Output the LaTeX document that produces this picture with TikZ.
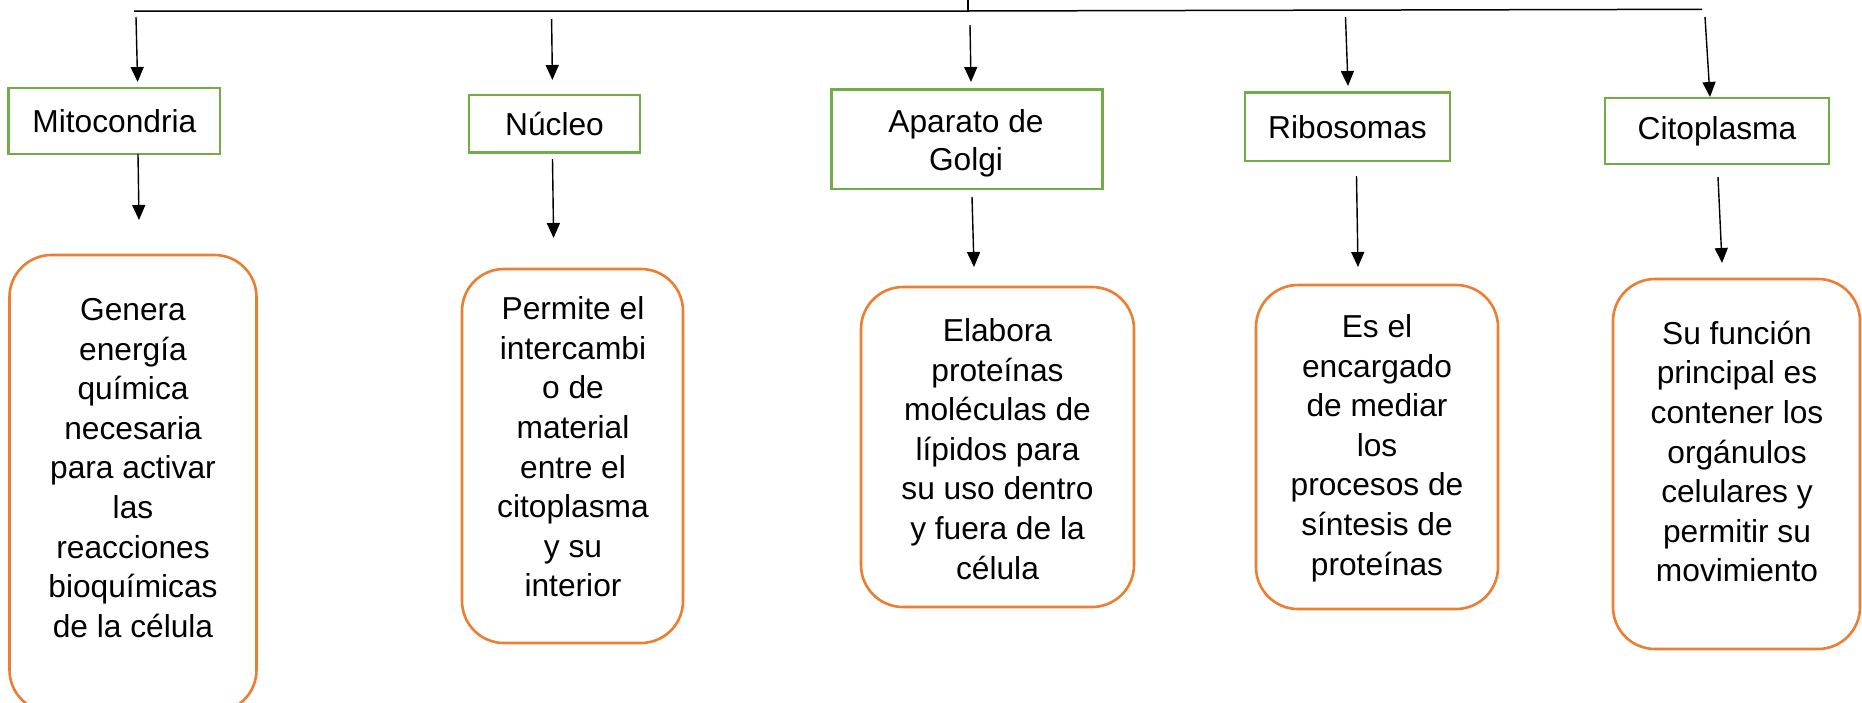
\documentclass[tikz,border=0pt]{standalone}
\usepackage{fontspec}
\setmainfont{Liberation Sans}
\usetikzlibrary{arrows.meta}
\definecolor{boxgreen}{RGB}{112,173,71}
\definecolor{boxorange}{RGB}{237,125,49}
\tikzset{
  organelle/.style={draw=boxgreen, line width=2.6pt, inner sep=0pt, align=center,
    font=\fontsize{31.7}{38.5}\selectfont},
  labeltext/.style={inner sep=0pt, align=center, font=\fontsize{31.7}{38.5}\selectfont},
  descbox/.style={draw=boxorange, line width=2.6pt, rounded corners=42pt, inner sep=0pt},
  desctext/.style={inner sep=0pt, align=center, font=\fontsize{31.7}{39.6}\selectfont},
  arr/.style={line width=1.4pt, -{Triangle[length=15pt,width=13pt]}},
  trunk/.style={line width=1.5pt},
}
\begin{document}
\begin{tikzpicture}[x=1pt,y=-1pt]
\clip (0,0) rectangle (1862,702);
\fill[white] (0,0) rectangle (1862,702);

% top connector
\coordinate (tl) at (134,11.2);
\coordinate (tm) at (968,11);
\coordinate (tr) at (1702,9.3);
\coordinate (tt) at (968,0);
\draw[trunk] (tl) -- (tm) -- (tr);
\draw[trunk] (tt) -- (tm);

% organelle boxes
\node[organelle, minimum width=211.3pt, minimum height=66pt] (mito) at (114.4,121) {Mitocondria};
\node[organelle, minimum width=171pt, minimum height=57.7pt] (nucleo) at (554.5,123.9) {Núcleo};
\node[organelle, minimum width=271pt, minimum height=99.7pt] (golgi) at (967.2,139.2) {};
\node[labeltext] (golgitxt) at (966,143.5) {Aparato de\\Golgi};
\node[organelle, minimum width=205pt, minimum height=68.3pt] (ribo) at (1347.5,126.9) {Ribosomas};
\node[organelle, minimum width=224pt, minimum height=66pt] (cito) at (1717,131) {Citoplasma};

% description boxes
\node[descbox, minimum width=247pt, minimum height=457pt] (mitobox) at (133,483.5) {};
\node[descbox, minimum width=221pt, minimum height=374pt] (nucleobox) at (572.5,456) {};
\node[descbox, minimum width=273pt, minimum height=320pt] (golgibox) at (997.5,447) {};
\node[descbox, minimum width=242pt, minimum height=324pt] (ribobox) at (1377,447) {};
\node[descbox, minimum width=247pt, minimum height=370pt] (citobox) at (1736.5,464) {};

% description texts
\node[desctext] (mitotext) at (133,468) {Genera\\energía\\química\\necesaria\\para activar\\las\\reacciones\\bioquímicas\\de la célula};
\node[desctext] (nucleotext) at (573,447) {Permite el\\intercambi\\o de\\material\\entre el\\citoplasma\\y su\\interior};
\node[desctext] (golgitext) at (997.5,449) {Elabora\\proteínas\\moléculas de\\lípidos para\\su uso dentro\\y fuera de la\\célula};
\node[desctext] (ribotext) at (1377,448) {Es el\\encargado\\de mediar\\los\\procesos de\\síntesis de\\proteínas};
\node[desctext] (citotext) at (1737,451.5) {Su función\\principal es\\contener los\\orgánulos\\celulares y\\permitir su\\movimiento};

% arrow end points
\coordinate (a1s) at (136,17);     \coordinate (a1e) at (137.6,82);
\coordinate (b1s) at (138,154);    \coordinate (b1e) at (139,220);
\coordinate (a2s) at (551.6,19);   \coordinate (a2e) at (552.4,80);
\coordinate (b2s) at (552.5,159);  \coordinate (b2e) at (553.6,238);
\coordinate (a3s) at (970,25);     \coordinate (a3e) at (971,82);
\coordinate (b3s) at (972,197);    \coordinate (b3e) at (974,267);
\coordinate (a4s) at (1345.5,17);  \coordinate (a4e) at (1348,86);
\coordinate (b4s) at (1356.5,176); \coordinate (b4e) at (1358,267);
\coordinate (a5s) at (1705,17);    \coordinate (a5e) at (1710,97);
\coordinate (b5s) at (1718,177);   \coordinate (b5e) at (1722,263);

\foreach \i in {1,...,5}{
  \draw[arr] (a\i s) -- (a\i e);
  \draw[arr] (b\i s) -- (b\i e);
}
\end{tikzpicture}
\end{document}
